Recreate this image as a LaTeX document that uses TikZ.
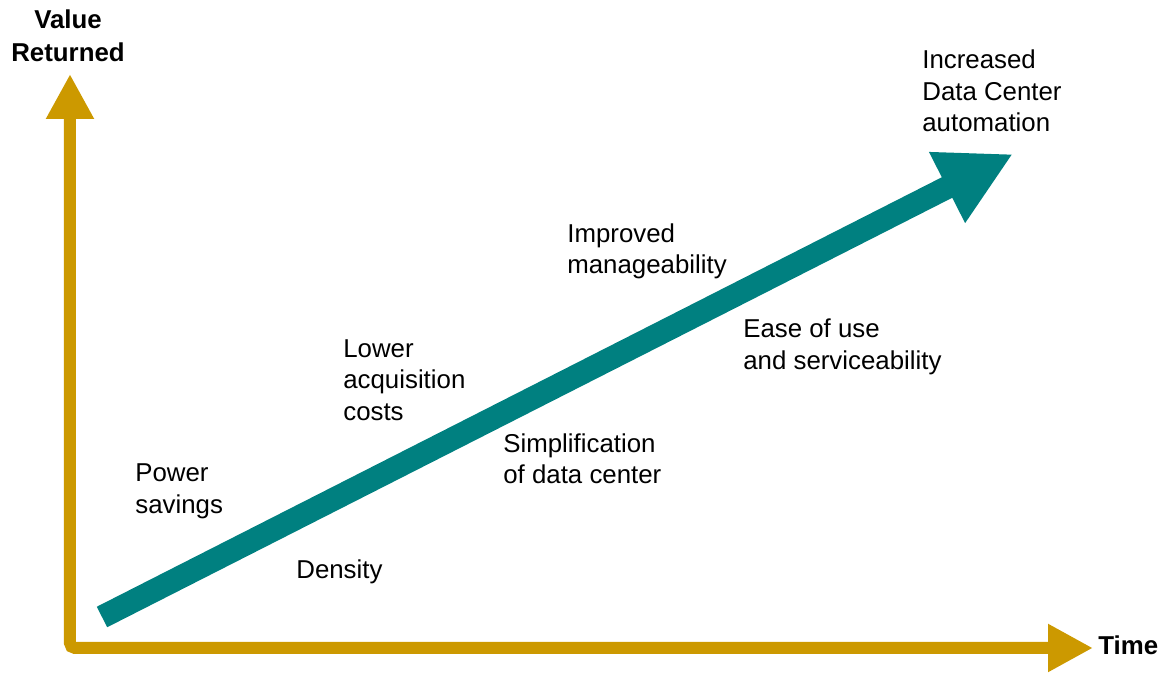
\documentclass[tikz,border=0pt]{standalone}
\usepackage{fontspec}
\setmainfont{Liberation Sans}
\usetikzlibrary{arrows.meta}

\definecolor{axisgold}{RGB}{204,153,0}
\definecolor{growthteal}{RGB}{0,128,128}

\begin{document}
\begin{tikzpicture}[
  axistip/.tip={Triangle[length=0.9cm, width=0.9cm]},
  axis/.style={draw=axisgold, line width=0.24cm, rounded corners=0.1cm},
  growth/.style={draw=growthteal, line width=0.46cm,
    -{Triangle[length=1.48cm, width=1.48cm]}},
  every node/.style={inner sep=0pt, font=\fontsize{14.7}{17.9}\selectfont},
  benefit/.style={anchor=west, align=left},
  axislabel/.style={font=\fontsize{14.7}{18.6}\selectfont\bfseries, align=center}
]
  \useasboundingbox (-1.4,-0.5) rectangle (22,12.96);

  % axes and the rising value arrow
  \coordinate (top) at (0,11.48);
  \coordinate (origin) at (0,0);
  \coordinate (right) at (20.46,0);
  \draw[axis, axistip-axistip] (top) -- (origin) -- (right);

  \coordinate (start) at (0.64,0.62);
  \coordinate (goal) at (18.86,9.88);
  \draw[growth] (start) -- (goal);

  \node[axislabel] (value) at (-0.04,12.24) {Value\\Returned};
  \node[axislabel, anchor=west] (time) at (20.56,0.06) {Time};

  % benefits along the way
  \node[benefit] (power) at (1.30,3.13) {Power\\savings};
  \node[benefit] (density) at (4.52,1.52) {Density};
  \node[benefit] (lower) at (5.46,5.36) {Lower\\acquisition\\costs};
  \node[benefit] (simple) at (8.66,3.78) {Simplification\\of data center};
  \node[benefit] (manage) at (9.94,7.93) {Improved\\manageability};
  \node[benefit] (ease) at (13.46,6.02) {Ease of use\\and serviceability};
  \node[benefit] (auto) at (17.04,11.14) {Increased\\Data Center\\automation};
\end{tikzpicture}
\end{document}
